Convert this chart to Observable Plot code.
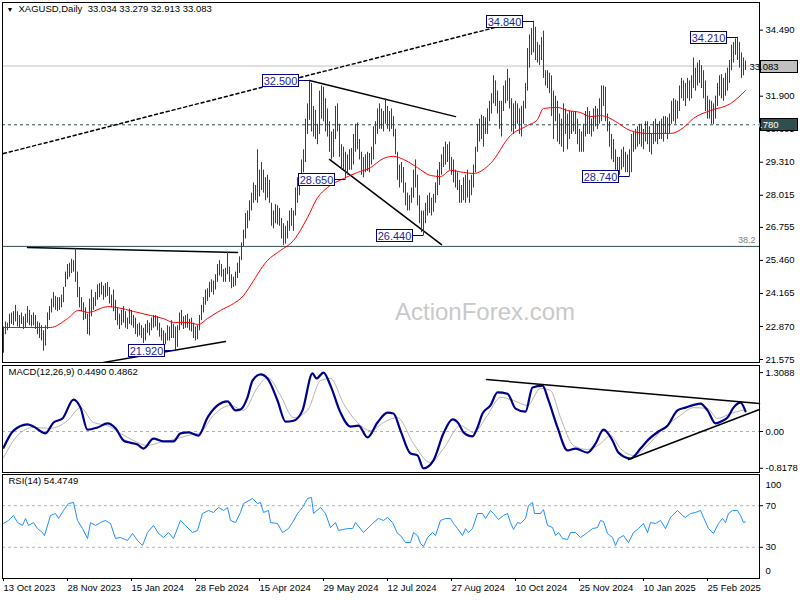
<!DOCTYPE html>
<html><head><meta charset="utf-8">
<script src="https://cdn.jsdelivr.net/npm/d3@7"></script>
<script src="https://cdn.jsdelivr.net/npm/@observablehq/plot@0.6"></script>
<style>
body{margin:0;background:#fff;}
#chart{position:relative;width:800px;height:600px;overflow:hidden;background:#fff;}
#chart svg{position:absolute;left:0;}
</style></head><body><div id="chart"></div>
<script>
// ---------- DATA ----------
const hi = [
22.85,23.05,23.00,23.35,23.40,23.45,23.70,23.45,23.30,23.40,23.25,23.35,23.65,23.50,23.30,23.40,
23.30,23.05,23.00,22.90,22.70,22.90,23.40,23.65,23.95,24.20,24.05,24.00,24.00,24.10,24.40,25.00,
25.30,25.35,25.50,25.45,25.92,25.00,24.40,24.00,23.80,23.60,23.35,23.95,24.30,24.00,24.20,24.50,
24.55,24.60,24.45,24.55,24.60,24.40,24.10,24.30,23.90,23.60,23.35,23.50,23.65,23.45,23.20,23.55,
23.50,23.30,23.20,22.95,23.00,22.90,22.80,22.95,23.10,23.00,23.20,23.30,23.30,23.25,23.00,22.80,
22.70,22.60,22.90,22.85,23.10,22.95,22.85,22.90,23.40,23.50,23.25,23.30,23.35,23.15,23.20,23.00,
22.85,22.90,23.30,23.70,24.00,24.30,24.35,24.60,24.70,24.65,24.90,25.30,25.45,25.30,25.10,25.15,
25.77,25.20,24.90,24.80,25.00,25.35,25.60,26.15,26.65,27.30,27.40,27.80,28.10,28.50,28.40,29.80,
29.00,29.30,29.00,28.70,28.80,28.60,27.70,27.40,27.65,27.60,27.50,27.10,26.90,26.80,27.00,27.40,
27.50,27.40,28.30,28.70,28.70,29.40,29.80,31.00,31.60,32.50,32.40,31.50,31.35,30.80,32.10,32.30,
32.25,31.80,31.40,30.90,30.50,30.60,31.50,31.60,30.80,30.00,29.90,29.70,29.60,29.80,29.85,30.40,
30.80,30.85,30.20,29.70,29.50,29.60,29.70,29.65,29.90,30.70,30.90,31.40,31.60,31.40,31.30,31.80,
31.50,31.30,31.40,31.10,30.60,29.70,29.20,29.30,29.10,28.50,28.10,28.00,28.30,29.00,29.40,28.80,
28.00,27.40,27.40,27.70,28.00,28.10,27.90,28.05,28.50,29.00,29.30,29.60,29.90,30.10,30.00,30.10,
29.50,29.40,29.00,28.90,28.60,28.40,28.70,28.80,29.00,28.60,28.80,29.20,29.90,30.80,31.00,31.15,
31.10,31.05,31.40,31.70,32.00,32.70,32.50,32.10,31.70,31.70,32.30,32.50,32.95,32.60,31.80,31.60,
31.70,31.60,31.40,31.50,31.70,32.40,33.77,34.30,34.55,34.84,34.60,34.00,33.90,34.20,34.45,32.90,
32.90,32.80,32.70,32.10,31.90,31.70,31.20,31.00,31.60,31.40,31.20,31.30,31.30,31.25,31.30,31.00,
30.60,30.50,30.80,31.30,31.45,31.30,31.00,31.40,31.50,31.40,31.80,32.30,32.30,32.25,31.20,30.90,
30.40,30.20,29.80,29.50,29.50,29.80,29.90,29.70,29.60,29.80,30.40,30.50,30.60,30.70,30.80,30.80,
30.60,30.90,30.90,30.70,30.40,30.90,31.00,30.80,30.90,31.00,31.10,31.10,31.05,31.20,31.70,31.80,
31.75,31.70,32.30,32.60,32.50,32.40,32.60,32.50,32.70,33.40,33.00,33.20,33.30,33.10,32.90,32.50,
31.90,31.75,31.70,31.60,31.90,32.40,32.70,32.75,32.60,32.80,33.00,33.30,33.90,34.00,34.15,34.21,34.00,33.60,33.40,33.28];
const lo = [
21.82,22.55,22.70,22.80,22.95,22.90,23.05,22.85,22.80,22.95,22.75,22.80,23.00,22.90,22.85,22.90,
22.75,22.55,22.40,22.30,21.90,22.10,22.75,23.10,23.40,23.60,23.50,23.45,23.50,23.60,23.80,24.40,
24.70,24.80,24.95,25.00,24.60,24.00,23.60,23.45,23.10,23.15,22.55,22.50,23.25,23.50,23.65,23.90,
24.00,24.10,23.90,24.00,24.05,23.75,23.60,23.45,23.10,22.90,22.75,22.90,23.00,22.80,22.75,22.95,
22.90,22.80,22.55,22.45,22.50,22.40,22.20,22.30,22.60,22.50,22.70,22.80,22.85,22.70,22.45,22.30,
22.10,22.15,22.30,22.30,22.40,22.40,21.92,22.05,22.70,22.90,22.75,22.80,22.80,22.70,22.65,22.40,
22.30,22.35,22.70,23.10,23.40,23.70,23.85,24.00,24.20,24.10,24.30,24.60,24.85,24.80,24.60,24.60,
24.90,24.60,24.35,24.40,24.45,24.75,24.95,25.45,26.00,26.30,26.70,27.00,27.40,27.70,27.80,27.70,
27.95,28.20,28.10,27.80,27.90,27.70,26.80,26.70,26.90,26.85,26.80,26.30,26.05,26.10,26.30,26.60,
26.80,26.60,27.20,27.70,28.00,28.40,28.90,29.30,30.40,30.95,30.50,30.30,30.20,30.00,30.40,31.00,
30.90,30.50,30.30,29.70,29.40,29.50,30.20,30.50,29.50,29.00,29.00,28.65,28.80,29.00,29.00,29.20,
29.70,29.80,29.40,28.80,28.70,28.90,28.95,28.90,29.20,29.40,30.00,30.40,30.60,30.60,30.50,30.80,
30.60,30.50,30.60,30.30,29.60,28.60,28.30,28.50,28.10,27.60,27.40,27.40,27.70,27.90,28.30,27.60,
26.90,26.55,26.44,26.90,27.20,27.30,27.20,27.35,27.70,28.00,28.40,28.80,29.10,29.20,29.30,29.00,
28.80,28.50,28.30,28.20,27.70,27.70,27.80,27.70,27.90,27.70,28.00,28.30,28.90,29.70,30.10,30.20,
29.90,30.40,30.40,30.90,31.20,31.60,31.50,31.20,30.60,30.30,31.30,31.60,31.70,31.40,30.50,30.40,
30.60,30.80,30.40,30.30,30.80,31.40,32.10,33.00,33.50,33.60,33.30,33.20,33.10,33.30,32.60,32.30,
32.20,32.00,31.10,30.20,30.90,30.10,30.00,29.90,29.70,30.40,29.80,30.20,30.40,30.50,30.40,30.00,
29.70,29.70,29.70,30.30,30.40,30.40,30.30,30.50,30.70,30.60,30.80,30.90,31.50,30.90,30.50,29.90,
29.40,29.30,29.00,28.85,28.80,29.00,29.10,28.90,28.90,28.74,28.90,29.70,29.80,29.90,30.00,29.90,
29.80,30.10,30.00,29.70,29.60,30.00,30.10,30.00,30.20,30.20,30.10,30.40,30.20,30.40,30.80,30.90,
30.80,31.00,31.30,31.80,31.70,31.50,31.80,31.70,31.80,32.20,32.10,32.30,32.40,32.20,31.80,31.30,
31.00,31.00,30.80,30.78,31.00,31.50,31.90,31.80,31.70,31.90,32.10,32.40,32.90,33.20,33.50,33.30,33.00,32.60,32.70,32.91];

const maIdx = [0,23.5,32,37.5,42.5,52,57,65,73.5,80,85,92,97.5,102,108.5,115,120,122.5,132,138.5,145,152,157,162,170,177,183.5,190,195,200,207,213.5,218.5,223.5,230,235,243.5,253.5,262,267,270,277,282,288.5,293.5,298.5,302.5,306,313.5,322,333.5,340,345,353.5,363.5,371];
const maVal = [22.83,22.83,23.18,23.50,23.42,23.65,23.61,23.46,23.30,23.18,23.03,23.03,22.95,23.18,23.50,23.77,24.08,24.36,25.46,25.85,26.24,27.14,27.92,28.32,28.67,28.91,29.10,29.46,29.54,29.42,29.10,28.79,28.75,28.99,28.91,28.87,29.26,30.36,30.75,30.99,31.42,31.46,31.34,31.26,31.10,31.14,31.06,30.91,30.55,30.44,30.44,30.67,31.03,31.34,31.61,32.12];

const macdIdx = [0,5,12,15,21,25,29.5,35,38.5,42,47,52,56,60,62.5,67,70,75,80,85,88.5,92.5,97.5,102,107,112,116,118.5,122,124.5,128.5,132,137,141,145,149.5,154.5,156.5,160,163.5,168.5,173.5,177.5,182,187,192,195,198.5,203.5,207,210,215,220,224.5,227.5,230,234.5,237,239.5,243.5,247,252,256,261,264.5,269.5,272.5,277,282,286,292,296,300,304.5,307.5,313.5,318.5,322,327.5,332,337,341,348.5,352,356,359.5,362,365,368.5,371];
const macdVal = [-0.36,0.02,0.16,0.11,-0.04,0.20,0.29,0.71,0.53,0.04,0.09,0.18,0.07,-0.20,-0.24,-0.29,-0.38,-0.16,-0.22,-0.22,-0.04,-0.02,-0.09,0.31,0.58,0.67,0.47,0.49,0.76,1.13,1.27,1.18,0.69,0.22,0.24,0.47,1.29,1.18,1.31,1.02,0.42,0.11,0.13,-0.13,0.20,0.42,0.40,0.02,-0.49,-0.53,-0.82,-0.64,-0.04,0.27,0.18,-0.02,-0.11,0.09,0.40,0.58,0.87,0.84,0.51,0.44,0.98,1.02,0.69,0.09,-0.42,-0.38,-0.47,-0.27,0.04,-0.20,-0.47,-0.60,-0.38,-0.20,0.00,0.13,0.47,0.53,0.62,0.47,0.18,0.24,0.31,0.53,0.64,0.449];
const sigIdx = [0,7,15,23.5,32,38.5,45,52,58.5,65,72,78.5,85,92,98.5,105,113.5,120,127,132,138.5,145,152,158.5,163.5,170,177,183.5,190,197,205,213.5,220,228.5,235,242,248.5,255,262,268.5,273.5,278.5,285,292,298.5,303.5,308.5,315,322,330,338.5,345,352,357,363.5,371];
const sigVal = [-0.58,-0.09,0.09,0.07,0.24,0.53,0.20,0.13,-0.04,-0.20,-0.31,-0.24,-0.18,-0.09,-0.02,0.36,0.58,0.47,0.98,1.20,0.80,0.31,0.47,1.13,1.18,0.62,0.20,0.02,0.20,0.31,-0.27,-0.69,-0.38,0.13,-0.02,0.36,0.76,0.69,0.58,0.96,0.91,0.31,-0.31,-0.40,-0.27,-0.09,-0.38,-0.53,-0.31,0.07,0.36,0.53,0.51,0.29,0.40,0.486];

const rsiIdx = [0,2.5,5,7,9.5,11,12.5,15,17,19.5,20.5,23.5,26,27.5,30,32.5,35,37,39.5,42,43.5,46,48.5,51,53.5,56,58.5,62,64.5,67,69.5,72,75,77.5,80,82.5,85,88.5,91,94.5,97,99.5,102.5,105,107.5,110,112,113.5,116,118.5,120,124.5,127,128.5,130,132.5,133.5,137,139.5,142.5,144.5,147,149.5,152,154,155,158.5,161,163.5,166,167.5,172,174.5,176,180,185,187.5,190,192,194.5,197,198.5,201,203.5,205,207,208.5,210,212,214.5,216,218.5,221,223.5,225,227,229.5,231,232.5,234.5,237,239.5,241,243.5,245,247.5,250,252,253.5,255,257,258.5,261,262.5,264.5,265.5,268.5,270,272,274.5,276,277.5,279.5,282,283.5,286,288.5,292,294.5,297,298.5,300,302,304.5,306,307.5,310,312.5,315,317.5,320,322,323.5,326,328.5,331,333.5,337,339.5,341,343.5,346,348.5,350,352.5,355,357.5,359.5,361,362.5,364.5,367,368.5,370,371];
const rsiVal = [52.9,55.8,60.6,53.8,51,57.7,51,53.8,48,44.2,41.3,60.6,62.5,57.7,65.4,72.1,73.1,55.8,48,38.5,53.8,51,53.8,55.8,52.9,38.5,39.4,36.5,43.3,36.5,31.7,44.2,51,43.3,39.4,44.2,38.5,55.8,51,44.2,46.2,62.5,65.4,63.5,68.3,65.4,68.3,55.8,53.8,63.5,72.1,76.9,72.1,73.1,63.5,65.4,53.8,52.9,44.2,48,53.8,62.5,68.3,76.9,77.9,62.5,68.3,62.5,49,53.8,46.2,48,48,53.8,44.2,53.8,57.7,55.8,58.7,53.8,43.3,41.3,34.6,34.6,44.2,41.3,33.7,30.8,39.4,44.2,41.3,55.8,57.7,57.7,52.9,48,41.3,48,44.2,48,62.5,62.5,57.7,65.4,62.5,56.7,60.6,62.5,53.8,47.1,53.8,52.9,57.7,70.2,73.1,62.5,62.5,66.3,51,49,41.3,44.2,38.5,37.5,44.2,44.2,39.4,44.2,48,49,55.8,54.8,43.3,39.4,31.7,38.5,41.3,34.6,44.2,48,52.9,44.2,53.8,52.9,55.8,48,58.7,65.4,60.6,58.7,62.5,63.5,65.4,58.7,48,43.3,52.9,57.7,53.8,62.5,65.4,65.4,60.6,53.8,54.47];

const dateIdx = [0,32,64,96,128,160,192,224,256,288,320,352];
const dateLabels = ["13 Oct 2023","28 Nov 2023","15 Jan 2024","28 Feb 2024","15 Apr 2024","29 May 2024","12 Jul 2024","27 Aug 2024","10 Oct 2024","25 Nov 2024","10 Jan 2025","25 Feb 2025"];
const priceTicks = [21.575,22.870,24.165,25.460,26.755,28.015,29.310,30.605,31.900,34.490];
const priceTickLabels = ["21.575","22.870","24.165","25.460","26.755","28.015","29.310","30.605","31.900","34.490"];
const macdTicks = [1.3088,0,-0.8178];
const macdTickLabels = ["1.3088","0.00","-0.8178"];
const rsiLevels = [70,30];

// pivot labels (bar index, price, text)
const pivotIdx = [153,265,367,171,210,313,86];
const pivotPrice = [32.50,34.84,34.21,28.65,26.44,28.74,21.92];
const pivotText = ["32.500","34.840","34.210","28.650","26.440","28.740","21.920"];

// trend lines [i1,p1,i2,p2]
const dottedLine = [0,29.65,258,34.84];
const trendMain = [[153,32.52,226,31.10],[163,29.42,219,26.08],[12,25.97,117,25.77],[50,21.46,111,22.28]];
const trendMacd = [[241.5,1.156,378,0.622],[312.5,-0.622,378,0.489]];

const bidPrice = 33.083, supportLevel = 30.78, fibLevel = 26.01;
const titleText = "XAGUSD,Daily  33.034 33.279 32.913 33.083";
const macdTitle = "MACD(12,26,9) 0.4490 0.4862";
const rsiTitle = "RSI(14) 54.4749";

// ---------- BUILD ----------
const FONT = "'Liberation Sans', Arial, sans-serif";
const xDomain = [-0.5, 378];
const baseStyle = {fontFamily: FONT, fontSize: "9.5px", background: "transparent", color: "#000", overflow: "visible"};
const bars = d3.range(hi.length).map(i => ({i, hi: hi[i], lo: lo[i]}));
const ma = maIdx.map((i, k) => ({i, v: maVal[k]}));
const macd = macdIdx.map((i, k) => ({i, v: macdVal[k]}));
const sig = sigIdx.map((i, k) => ({i, v: sigVal[k]}));
const rsi = rsiIdx.map((i, k) => ({i, v: rsiVal[k]}));
const seg = s => [{i: s[0], v: s[1]}, {i: s[2], v: s[3]}];
const priceLab = new Map(priceTicks.map((t, k) => [t, priceTickLabels[k]]));
const macdLab = new Map(macdTicks.map((t, k) => [t, macdTickLabels[k]]));
const dateLab = new Map(dateIdx.map((t, k) => [t, dateLabels[k]]));

const main = Plot.plot({
  width: 800, height: 364, marginLeft: 2, marginRight: 41, marginTop: 2, marginBottom: 2,
  style: baseStyle,
  x: {domain: xDomain, axis: null},
  y: {domain: [21.457, 35.575], axis: null},
  marks: [
    Plot.text(["ActionForex.com"], {frameAnchor: "middle", dx: 104, dy: 130, fontSize: 24, fill: "#c9c9c9", fontFamily: FONT}),
    Plot.ruleY([bidPrice], {stroke: "#c0c0c0"}),
    Plot.ruleY([supportLevel], {stroke: "#2f4f4f", strokeDasharray: "3,3"}),
    Plot.ruleY([fibLevel], {stroke: "#2f4f4f"}),
    Plot.text(["38.2"], {x: [376], y: [fibLevel], dy: -6, textAnchor: "end", fill: "#808080", fontSize: 9}),
    Plot.line(seg(dottedLine), {x: "i", y: "v", stroke: "#000", strokeDasharray: "3,3"}),
    ...trendMain.map(s => Plot.line(seg(s), {x: "i", y: "v", stroke: "#000", clip: true})),
    Plot.ruleX(bars, {x: "i", y1: "lo", y2: "hi", stroke: "#1b4764"}),
    Plot.line(ma, {x: "i", y: "v", stroke: "#ff0000", strokeWidth: 1, curve: "monotone-x"}),
    Plot.axisY(priceTicks, {anchor: "right", tickSize: 3, tickPadding: 3, tickFormat: d => priceLab.get(d), fill: "#000", label: null}),
    Plot.frame({stroke: "#000"}),
    Plot.text(["▼"], {frameAnchor: "top-left", dx: 4, dy: 5, fontSize: 7, lineAnchor: "top"}),
    Plot.text([titleText], {frameAnchor: "top-left", dx: 16, dy: 3, lineAnchor: "top", fontSize: 9.5})
  ]
});
main.style.top = "0px";

const macdPlot = Plot.plot({
  width: 800, height: 111, marginLeft: 2, marginRight: 41, marginTop: 2, marginBottom: 2,
  style: baseStyle,
  x: {domain: xDomain, axis: null},
  y: {domain: [-0.911, 1.467], axis: null},
  marks: [
    Plot.ruleY([0], {stroke: "#b0b0b0", strokeDasharray: "3,3"}),
    Plot.line(sig, {x: "i", y: "v", stroke: "#b4b4b4", strokeWidth: 1, curve: "monotone-x"}),
    Plot.line(macd, {x: "i", y: "v", stroke: "#00008b", strokeWidth: 2.2, curve: "monotone-x"}),
    ...trendMacd.map(s => Plot.line(seg(s), {x: "i", y: "v", stroke: "#000"})),
    Plot.axisY(macdTicks, {anchor: "right", tickSize: 3, tickPadding: 3, tickFormat: d => macdLab.get(d), fill: "#000", label: null}),
    Plot.frame({stroke: "#000"}),
    Plot.text([macdTitle], {frameAnchor: "top-left", dx: 6, dy: 3, lineAnchor: "top", fontSize: 9.5})
  ]
});
macdPlot.style.top = "363px";

const rsiPlot = Plot.plot({
  width: 800, height: 128, marginLeft: 2, marginRight: 41, marginTop: 2, marginBottom: 22,
  style: baseStyle,
  x: {domain: xDomain, axis: null},
  y: {domain: [0, 100], axis: null},
  marks: [
    Plot.ruleY(rsiLevels, {stroke: "#b4b4b4", strokeDasharray: "3,3"}),
    Plot.line(rsi, {x: "i", y: "v", stroke: "#1e90ff", strokeWidth: 1}),
    Plot.axisY(rsiLevels, {anchor: "right", tickSize: 3, tickPadding: 3, fill: "#000", label: null}),
    Plot.text(["100"], {frameAnchor: "top-right", dx: 6, dy: 7, textAnchor: "start"}),
    Plot.text(["0"], {frameAnchor: "bottom-right", dx: 6, dy: -5, textAnchor: "start"}),
    Plot.axisX(dateIdx, {anchor: "bottom", tickSize: 3, tickPadding: 3, tickFormat: d => dateLab.get(d), textAnchor: "start", fill: "#000", label: null}),
    Plot.frame({stroke: "#000"}),
    Plot.text([rsiTitle], {frameAnchor: "top-left", dx: 6, dy: 3, lineAnchor: "top", fontSize: 9.5})
  ]
});
rsiPlot.style.top = "472px";

const root = document.getElementById("chart");
root.append(main, macdPlot, rsiPlot);

// pivot label boxes and right-axis price boxes, positioned through Plot's scales
const sx = main.scale("x"), sy = main.scale("y");
const g = d3.select(main).append("g").attr("font-family", FONT);
pivotIdx.forEach((pi, k) => {
  const bx = Math.round(sx.apply(pi)) + 0.5;
  const by = Math.round(sy.apply(pivotPrice[k])) + 0.5;
  g.append("line").attr("x1", bx - 11).attr("x2", bx).attr("y1", by).attr("y2", by).attr("stroke", "#000080");
  g.append("rect").attr("x", bx - 47).attr("y", by - 6).attr("width", 36).attr("height", 12)
    .attr("fill", "#fff").attr("stroke", "#000080");
  g.append("text").attr("x", bx - 29).attr("y", by + 4).attr("text-anchor", "middle")
    .attr("font-size", 11).attr("fill", "#1f1fa0").text(pivotText[k]);
});
[[bidPrice, "33.083", "#c0c0c0", "#000"], [supportLevel, "30.780", "#2f4f4f", "#fff"]].forEach(([p, t, bg, fg]) => {
  const by = Math.round(sy.apply(p)) + 0.5;
  g.append("rect").attr("x", 760.5).attr("y", by - 6).attr("width", 37).attr("height", 12).attr("fill", bg).attr("stroke", "#000");
  g.append("text").attr("x", 764).attr("y", by + 3.5).attr("font-size", 9.5).attr("fill", fg).text(t);
});
</script></body></html>
